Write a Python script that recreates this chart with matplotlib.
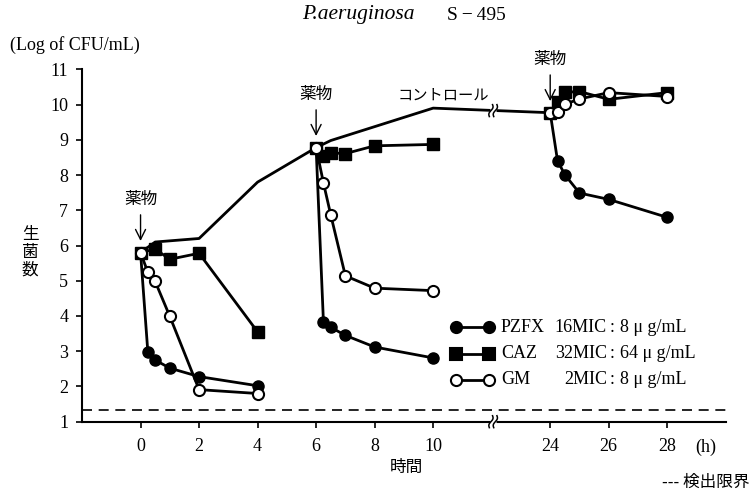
import numpy as np
import matplotlib
matplotlib.use("Agg")
import matplotlib.pyplot as plt
from matplotlib.lines import Line2D
from matplotlib.transforms import offset_copy

plt.rcParams['font.family'] = ['Liberation Serif', 'Noto Sans CJK JP', 'DejaVu Sans']
JP = ['Noto Sans CJK JP', 'DejaVu Sans']

# 時間 (h) と 生菌数 (Log of CFU/mL)
pzfx_t1 = [0, 0.25, 0.5, 1, 2, 4]
pzfx_v1 = [5.8, 2.97, 2.75, 2.52, 2.28, 2.02]
pzfx_t2 = [6, 6.25, 6.5, 7, 8, 10]
pzfx_v2 = [8.78, 3.84, 3.68, 3.45, 3.12, 2.81]
pzfx_t3 = [24, 24.25, 24.5, 25, 26, 28]
pzfx_v3 = [9.77, 8.41, 8.01, 7.49, 7.31, 6.80]

caz_t1 = [0, 0.5, 1, 2, 4]
caz_v1 = [5.8, 5.9, 5.61, 5.78, 3.55]
caz_t2 = [6, 6.25, 6.5, 7, 8, 10]
caz_v2 = [8.78, 8.53, 8.63, 8.61, 8.83, 8.87]
caz_t3 = [24, 24.25, 24.5, 25, 26, 28]
caz_v3 = [9.77, 10.06, 10.35, 10.37, 10.15, 10.34]

gm_t1 = [0, 0.25, 0.5, 1, 2, 4]
gm_v1 = [5.8, 5.24, 4.98, 3.99, 1.91, 1.80]
gm_t2 = [6, 6.25, 6.5, 7, 8, 10]
gm_v2 = [8.78, 7.78, 6.87, 5.14, 4.79, 4.72]
gm_t3 = [24, 24.25, 24.5, 25, 26, 28]
gm_v3 = [9.77, 9.78, 10.01, 10.16, 10.34, 10.23]

ctrl_t = [0, 0.5, 2, 4, 6, 6.5, 10, 24]
ctrl_v = [5.8, 6.1, 6.2, 7.8, 8.78, 8.98, 9.9, 9.77]

detect_limit = 1.32
dose_times = [0, 6, 24]
x_ticks = [0, 2, 4, 6, 8, 10, 24, 26, 28]
y_ticks = list(range(1, 12))


def xd(t):
    # 10h と 24h の間を詰める（軸の省略）
    t = np.asarray(t, dtype=float)
    return np.where(t > 12, t - 10, t)


fig = plt.figure(figsize=(7.56, 4.92), dpi=100)
ax = fig.add_axes([0.1085, 0.1429, 0.8515, 0.7161])
ax.set_xlim(-2, 20)
ax.set_ylim(1, 11)

# コントロール
ax.plot(xd(ctrl_t), ctrl_v, color='black', lw=2, zorder=2)

ms = 8
for t, v in [(pzfx_t1, pzfx_v1), (pzfx_t2, pzfx_v2), (pzfx_t3, pzfx_v3)]:
    ax.plot(xd(t), v, '-o', color='black', lw=2, ms=ms, mfc='black', mec='black', zorder=3)
for t, v in [(caz_t1, caz_v1), (caz_t2, caz_v2), (caz_t3, caz_v3)]:
    ax.plot(xd(t), v, '-s', color='black', lw=2, ms=ms, mfc='black', mec='black', zorder=4)
for t, v in [(gm_t1, gm_v1), (gm_t2, gm_v2), (gm_t3, gm_v3)]:
    ax.plot(xd(t), v, '-o', color='black', lw=2, ms=ms, mfc='white', mec='black', mew=1.5, zorder=5)

# 検出限界
ax.axhline(detect_limit, color='black', lw=1.2, ls=(0, (6, 4)), zorder=1)

# 薬物の矢印
for t, v0 in zip(dose_times, [5.8, 8.78, 9.77]):
    x = float(xd(t))
    ax.annotate('', xy=(x, v0 + 0.25), xytext=(x, v0 + 1.15),
                arrowprops=dict(arrowstyle='->', color='black', lw=1.0, mutation_scale=18))
    ax.text(x, v0 + 1.5, '薬物', ha='center', va='center', fontsize=12, family=JP)

ax.text(10.35, 10.28, 'コントロール', ha='center', va='center', fontsize=11, family=JP)


def draw_break(x0, y0):
    # 波線の省略記号
    dx = 1 / 29.3
    dy = 1 / 35.4
    ax.plot([x0 - 3 * dx, x0 + 3 * dx], [y0, y0], color='white', lw=5,
            zorder=8, clip_on=False, solid_capstyle='butt')
    s = np.linspace(-1, 1, 40)
    for off in (-2.2, 2.2):
        xs = x0 + (off + 1.6 * s + 1.2 * np.sin(np.pi * s)) * dx
        ys = y0 + 6 * s * dy
        ax.plot(xs, ys, color='black', lw=1.1, zorder=9, clip_on=False)


draw_break(12.05, 1.0)
draw_break(12.05, 9.83)

# 軸
for sp in ['top', 'right']:
    ax.spines[sp].set_visible(False)
for sp in ['left', 'bottom']:
    ax.spines[sp].set_linewidth(1.5)
ax.set_xticks(xd(x_ticks))
ax.set_xticklabels([str(t) for t in x_ticks], fontsize=13)
ax.set_yticks(y_ticks)
ax.set_yticklabels([str(v) for v in y_ticks], fontsize=13)
ax.tick_params(axis='both', direction='out', length=4, width=1.2)
ax.tick_params(axis='x', pad=8)
ax.tick_params(axis='y', pad=6)
h_tr = offset_copy(ax.get_xaxis_transform(), fig=fig, x=0, y=-12, units='points')
ax.text(19.3, 0.0, '(h)', transform=h_tr, fontsize=13, ha='center', va='top')

# 凡例（手書き）
legend_rows = [
    ('PZFX', '16MIC : 8 μ g/mL', 'o', 'black'),
    ('CAZ', '32MIC : 64 μ g/mL', 's', 'black'),
    ('GM', '2MIC : 8 μ g/mL', 'o', 'white'),
]
fx = lambda px: px / 756
fy = lambda py: 1 - py / 492
for i, (name, conc, mk, fc) in enumerate(legend_rows):
    y = fy(327 + 26.5 * i)
    fig.add_artist(Line2D([fx(456), fx(489)], [y, y], color='black', lw=2,
                          marker=mk, ms=ms, mfc=fc, mec='black', mew=1.5,
                          transform=fig.transFigure))
    fig.text(fx(501), y, name, ha='left', va='center', fontsize=13)
    head, tail = conc.split(' : ')
    fig.text(fx(607), y, head, ha='right', va='center', fontsize=13)
    fig.text(fx(612), y, ':', ha='center', va='center', fontsize=13)
    fig.text(fx(620), y, tail, ha='left', va='center', fontsize=13)

# テキスト
fig.text(fx(302), fy(15), 'P.aeruginosa', ha='left', va='center', fontsize=15.5,
         style='italic')
fig.text(fx(447), fy(15), 'S\u2009\u2212\u2009495', ha='left', va='center', fontsize=14)
fig.text(fx(10), fy(45), '(Log of CFU/mL)', ha='left', va='center', fontsize=13)
fig.text(fx(30), fy(252), '生\n菌\n数', ha='center', va='center', fontsize=12,
         family=JP, linespacing=1.05)
fig.text(fx(406), fy(467), '時間', ha='center', va='center', fontsize=12, family=JP)
fig.text(fx(750), fy(482), '--- 検出限界', ha='right', va='center', fontsize=12, family=JP)

fig.savefig('out.png', dpi=100)
